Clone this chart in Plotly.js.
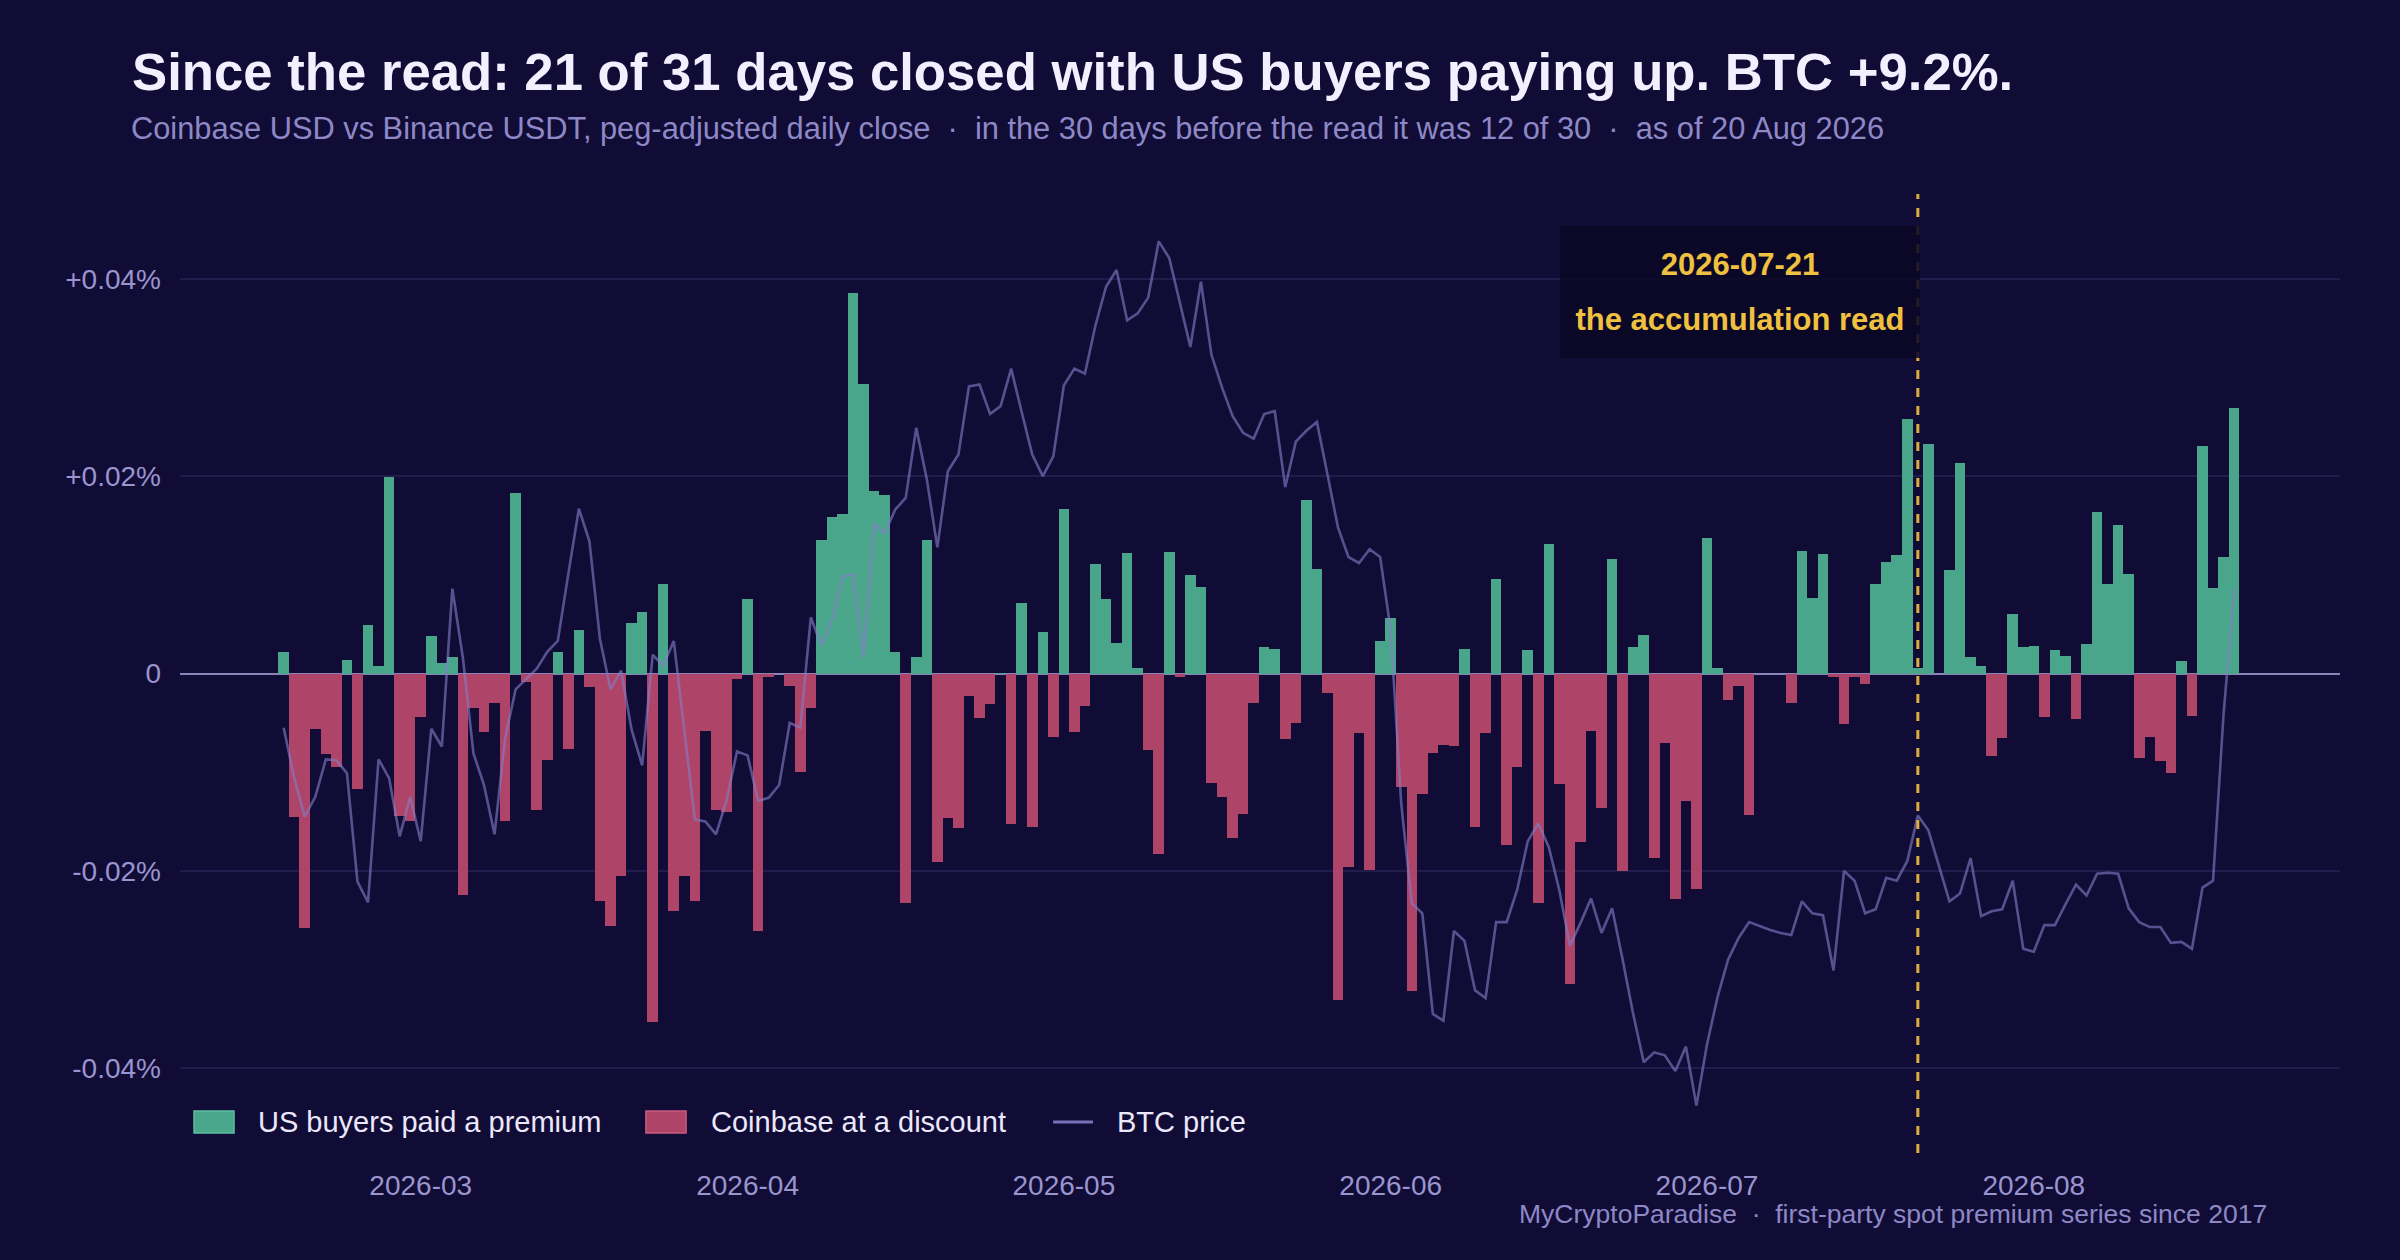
<!DOCTYPE html>
<html>
<head>
<meta charset="utf-8">
<script src="https://cdn.plot.ly/plotly-3.0.1.min.js"></script>
<style>
  html, body { margin: 0; padding: 0; background: #110c35; }
  #chart { width: 2400px; height: 1260px; }
</style>
</head>
<body>
<div id="chart"></div>
<script>
// ---------------- data ----------------
const START_DATE = '2026-02-16';   // first daily close shown
const READ_DATE = '2026-07-21';    // the accumulation read

// Coinbase premium vs Binance, % (daily close), Feb 16 -> Aug 20 2026
const premiumPct = [
  0.0022, -0.0145, -0.0258, -0.0056, -0.0082, -0.0095, 0.0014, -0.0117, 0.0049, 0.0008,
  0.0199, -0.0144, -0.0150, -0.0044, 0.0038, 0.0011, 0.0017, -0.0224, -0.0035, -0.0059,
  -0.0030, -0.0150, 0.0183, -0.0009, -0.0138, -0.0088, 0.0022, -0.0077, 0.0044, -0.0014,
  -0.0231, -0.0256, -0.0205, 0.0051, 0.0062, -0.0353, 0.0091, -0.0241, -0.0205, -0.0231,
  -0.0058, -0.0138, -0.0140, -0.0006, 0.0076, -0.0261, -0.0004, -0.0001, -0.0013, -0.0100,
  -0.0035, 0.0135, 0.0159, 0.0162, 0.0386, 0.0293, 0.0185, 0.0181, 0.0022, -0.0233,
  0.0017, 0.0135, -0.0191, -0.0146, -0.0157, -0.0023, -0.0045, -0.0031, 0.0001, -0.0153,
  0.0071, -0.0156, 0.0042, -0.0064, 0.0167, -0.0059, -0.0033, 0.0111, 0.0076, 0.0031,
  0.0122, 0.0006, -0.0078, -0.0183, 0.0123, -0.0004, 0.0100, 0.0088, -0.0111, -0.0125,
  -0.0167, -0.0142, -0.0030, 0.0027, 0.0025, -0.0066, -0.0050, 0.0176, 0.0106, -0.0020,
  -0.0331, -0.0196, -0.0060, -0.0199, 0.0033, 0.0056, -0.0115, -0.0322, -0.0122, -0.0081,
  -0.0072, -0.0073, 0.0025, -0.0156, -0.0060, 0.0096, -0.0174, -0.0095, 0.0024, -0.0233,
  0.0131, -0.0112, -0.0315, -0.0171, -0.0058, -0.0136, 0.0116, -0.0200, 0.0027, 0.0039,
  -0.0187, -0.0070, -0.0229, -0.0129, -0.0218, 0.0137, 0.0006, -0.0027, -0.0013, -0.0143,
  0, 0, 0, -0.0030, 0.0124, 0.0077, 0.0121, -0.0004, -0.0051, -0.0004,
  -0.0011, 0.0091, 0.0113, 0.0120, 0.0258, 0.0006, 0.0233, -0.0001, 0.0105, 0.0213,
  0.0017, 0.0008, -0.0084, -0.0065, 0.0060, 0.0027, 0.0028, -0.0044, 0.0024, 0.0018,
  -0.0046, 0.0030, 0.0164, 0.0091, 0.0151, 0.0101, -0.0086, -0.0064, -0.0089, -0.0101,
  0.0013, -0.0043, 0.0231, 0.0087, 0.0118, 0.0269
];

// BTC daily close, USD (secondary, hidden axis)
const btcPrice = [
  103120, 101080, 99520, 100320, 101840, 101800, 101280, 96880, 96040, 101840,
  101080, 98720, 100320, 98520, 103080, 102360, 108760, 105960, 102080, 100800,
  98800, 102680, 104680, 105080, 105520, 106200, 106640, 109360, 112000, 110680,
  106720, 104680, 105440, 103040, 101600, 106080, 105640, 106640, 103040, 99400,
  99320, 98800, 100160, 102160, 102000, 100160, 100280, 100800, 103320, 103120,
  107600, 106440, 107480, 109240, 109360, 105960, 111400, 111000, 111960, 112440,
  115280, 113200, 110440, 113520, 114200, 116960, 117040, 115840, 116160, 117680,
  115920, 114200, 113320, 114120, 117000, 117680, 117480, 119440, 121000, 121680,
  119640, 119920, 120560, 122840, 122160, 120320, 118560, 121200, 118240, 116920,
  115760, 115080, 114840, 115840, 115960, 112880, 114720, 115160, 115520, 113400,
  111240, 110040, 109800, 110360, 110040, 107080, 100040, 96000, 95600, 91520,
  91240, 94880, 94480, 92480, 92160, 95240, 95240, 96560, 98520, 99240,
  98280, 96520, 94280, 95200, 96200, 94800, 95800, 93720, 91520, 89560,
  89960, 89840, 89200, 90200, 87800, 90280, 92200, 93720, 94600, 95240,
  95080, 94920, 94800, 94720, 96080, 95600, 95520, 93280, 97320, 96920,
  95600, 95760, 97040, 96920, 97720, 99560, 98960, 97520, 96080, 96400,
  97840, 95480, 95680, 95760, 96920, 94160, 94040, 95120, 95120, 95960,
  96760, 96320, 97200, 97240, 97200, 95800, 95240, 95040, 95040, 94400,
  94440, 94160, 96640, 96920, 103680, 108720
];

const yTickVals = [-0.04, -0.02, 0, 0.02, 0.04];
const yTickText = ['-0.04%', '-0.02%', '0', '+0.02%', '+0.04%'];

const seriesNames = ['US buyers paid a premium', 'Coinbase at a discount', 'BTC price'];

// ---------------- build ----------------
const dates = [];
{
  const d0 = new Date(START_DATE + 'T00:00:00Z');
  for (let i = 0; i < premiumPct.length; i++) {
    const d = new Date(d0.getTime() + i * 86400000);
    dates.push(d.toISOString().slice(0, 10));
  }
}
const posVals = premiumPct.map(v => (v > 0 ? v : null));
const negVals = premiumPct.map(v => (v > 0 ? null : v));

const BG = '#110c35';
const GREEN = '#4aa68b';
const RED = '#ae4467';
const LAV = '#9a94cf';
const GOLD = '#f0c040';
const LINE_COL = 'rgba(132,124,200,0.62)';

const Y1 = [-0.0486, 0.0486];
const BTC_AT_ZERO = 105320, BTC_PER_UNIT = 400000;   // aligns price axis with premium axis
const Y2 = [BTC_AT_ZERO + BTC_PER_UNIT * Y1[0], BTC_AT_ZERO + BTC_PER_UNIT * Y1[1]];

const traces = [
  {
    type: 'bar', x: dates, y: posVals, name: seriesNames[0],
    marker: { color: GREEN, line: { width: 0 } }, showlegend: false
  },
  {
    type: 'bar', x: dates, y: negVals, name: seriesNames[1],
    marker: { color: RED, line: { width: 0 } }, showlegend: false
  },
  {
    type: 'scatter', mode: 'lines', x: dates, y: btcPrice, name: seriesNames[2],
    yaxis: 'y2', line: { color: LINE_COL, width: 2.6 }, showlegend: false
  }
];

const FONT = '"Liberation Sans", Arial, Helvetica, sans-serif';

// legend (drawn in paper coordinates under the plot, bottom-left)
const LEG_Y = 0.0323, LEG_H = 0.0115;
const legendShapes = [
  { type: 'rect', xref: 'paper', yref: 'paper', x0: 0.0065, x1: 0.025, y0: LEG_Y - LEG_H, y1: LEG_Y + LEG_H,
    fillcolor: GREEN, line: { color: '#5cc0a2', width: 1.5 } },
  { type: 'rect', xref: 'paper', yref: 'paper', x0: 0.2157, x1: 0.2343, y0: LEG_Y - LEG_H, y1: LEG_Y + LEG_H,
    fillcolor: RED, line: { color: '#c85a80', width: 1.5 } },
  { type: 'line', xref: 'paper', yref: 'paper', x0: 0.4042, x1: 0.4227, y0: LEG_Y, y1: LEG_Y,
    line: { color: 'rgba(132,124,200,0.9)', width: 3 } }
];
const legendLabels = [
  { x: 0.0352, text: seriesNames[0] },
  { x: 0.2449, text: seriesNames[1] },
  { x: 0.4329, text: seriesNames[2] }
].map(o => ({
  xref: 'paper', yref: 'paper', x: o.x, y: LEG_Y, xanchor: 'left', yanchor: 'middle',
  showarrow: false, text: o.text, font: { size: 29, color: '#ebe8fb', family: FONT }
}));

const layout = {
  width: 2400, height: 1260,
  paper_bgcolor: BG, plot_bgcolor: BG,
  font: { family: FONT, color: LAV, size: 28 },
  margin: { l: 180, r: 60, t: 194, b: 107, pad: 0 },
  barmode: 'relative',
  bargap: 0,
  showlegend: false,
  title: {
    text: '<b>Since the read: 21 of 31 days closed with US buyers paying up. BTC +9.2%.</b>',
    x: 0.055, xanchor: 'left', xref: 'container',
    y: 0.943, yanchor: 'middle', yref: 'container',
    font: { size: 52.7, color: '#f2efff', family: FONT }
  },
  xaxis: {
    type: 'date',
    range: ['2026-02-06 04:00', '2026-08-30 01:00'],
    showgrid: false, zeroline: false, showline: false,
    ticks: '', dtick: 'M1', tick0: '2026-03-01', tickformat: '%Y-%m',
    tickfont: { size: 28, color: LAV },
    ticklabelstandoff: 13
  },
  yaxis: {
    range: Y1, tickvals: yTickVals, ticktext: yTickText,
    showgrid: true, gridcolor: 'rgba(120,110,200,0.16)', gridwidth: 1.5,
    zeroline: true, zerolinecolor: '#8a84bb', zerolinewidth: 2,
    showline: false, ticks: '',
    tickfont: { size: 28, color: LAV },
    ticklabelstandoff: 18
  },
  yaxis2: {
    overlaying: 'y', side: 'right', range: Y2,
    visible: false, showgrid: false, zeroline: false
  },
  shapes: [
    {
      type: 'line', xref: 'x', yref: 'paper',
      x0: READ_DATE, x1: READ_DATE, y0: 0, y1: 1,
      line: { color: GOLD, width: 3, dash: 'dash' }, opacity: 0.9
    }
  ].concat(legendShapes),
  annotations: [
    {
      xref: 'paper', yref: 'paper', x: -0.0236, y: 1.068,
      xanchor: 'left', yanchor: 'middle', showarrow: false,
      text: 'Coinbase USD vs Binance USDT, peg-adjusted daily close  ·  in the 30 days before the read it was 12 of 30  ·  as of 20 Aug 2026',
      font: { size: 30.8, color: '#8e88c6', family: FONT }
    },
    {
      xref: 'x', yref: 'y', x: READ_DATE, y: 0.0394,
      ax: -178, ay: 7, showarrow: true, arrowhead: 0, arrowwidth: 2,
      arrowcolor: 'rgba(120,112,190,0.28)',
      text: '<span style="font-size:31px"><b>2026-07-21</b></span><br><span style="font-size:31px"><b>the accumulation read</b></span>',
      font: { size: 42, color: GOLD, family: FONT },
      width: 360, height: 132,
      bgcolor: 'rgba(10,8,38,0.88)', borderpad: 0, borderwidth: 0, align: 'center', valign: 'middle'
    },
    {
      xref: 'paper', yref: 'paper', x: 0.9672, y: -0.0636,
      xanchor: 'right', yanchor: 'middle', showarrow: false,
      text: 'MyCryptoParadise  ·  first-party spot premium series since 2017',
      font: { size: 26.5, color: '#8e88c6', family: FONT }
    }
  ].concat(legendLabels),
  hovermode: false
};

Plotly.newPlot('chart', traces, layout, { displayModeBar: false, staticPlot: true });
</script>
</body>
</html>
